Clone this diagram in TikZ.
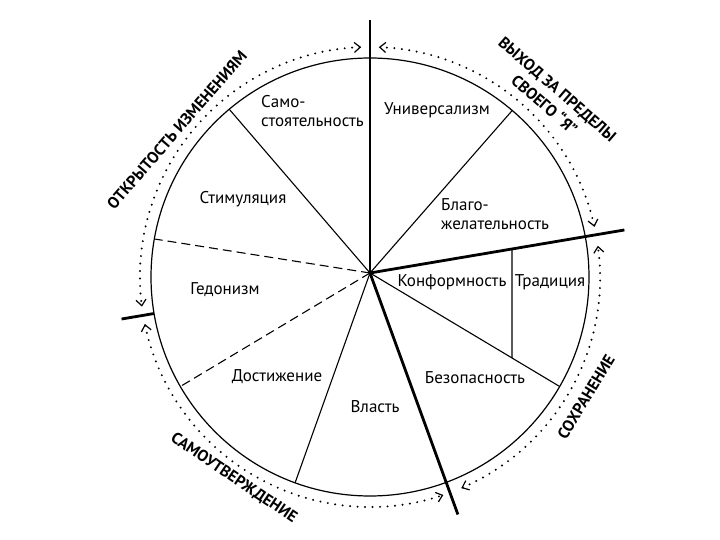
\documentclass[tikz,border=0pt]{standalone}
\usepackage{fontspec}
\setmainfont{PT Sans}
\usetikzlibrary{arrows.meta,calc}
\begin{document}
\begin{tikzpicture}[x=1pt,y=1pt,
  thinline/.style={line width=1.1pt},
  thickline/.style={line width=2.8pt},
  dashline/.style={line width=1.1pt, dash pattern=on 9pt off 5pt},
  barb/.tip={Straight Barb[length=6pt,width=10pt,line width=1.2pt]},
  dotarc/.style={line width=2.2pt, dash pattern=on 0pt off 7.5pt, line cap=round, barb-barb},
  lbl/.style={font=\fontsize{17}{19}\selectfont, inner sep=0pt},
  grp/.style={font=\bfseries\fontsize{16}{20}\selectfont, inner sep=0pt, align=center}]
\useasboundingbox (0,0) rectangle (720,540);
% centres
\coordinate (C) at (370,263);
\coordinate (H) at (370,267);
% ends on circle
\coordinate (a1) at ($(C)+(130:219)$);
\coordinate (d1) at ($(C)+(170:219)$);
\coordinate (d2) at ($(C)+(210:219)$);
\coordinate (a2) at ($(C)+(250:219)$);
\coordinate (a3) at ($(C)+(-30:219)$);
\coordinate (a4) at ($(C)+(49.5:219)$);
% thick ends
\coordinate (T) at ($(H)+(90:253)$);
\coordinate (R) at ($(H)+(9.6:258)$);
\coordinate (B) at ($(H)+(-70:257)$);
\coordinate (L1) at ($(C)+(189.6:219)$);
\coordinate (L2) at ($(C)+(189.6:252)$);
% Conformity / Tradition divider
\coordinate (v1) at (intersection of H--R and 512,0--512,540);
\coordinate (v2) at (intersection of H--a3 and 512,0--512,540);

\draw[line width=1.2pt] (C) circle[radius=219];

\draw[thinline] (H) -- (a1);
\draw[dashline] (H) -- (d1);
\draw[dashline] (H) -- (d2);
\draw[thinline] (H) -- (a2);
\draw[thinline] (H) -- (a3);
\draw[thinline] (H) -- (a4);
\draw[thinline] (v1) -- (v2);

\draw[thickline] (H) -- (T);
\draw[thickline] (H) -- (R);
\draw[thickline] (H) -- (B);
\draw[thickline] (L1) -- (L2);

% dotted arcs
\draw[dotarc] ($(C)+(12.6:230)$) arc[start angle=12.6, end angle=87.8, radius=230];
\draw[dotarc] ($(C)+(92.2:230)$) arc[start angle=92.2, end angle=187.4, radius=230];
\draw[dotarc] ($(C)+(191.8:230)$) arc[start angle=191.8, end angle=288.6, radius=230];
\draw[dotarc] ($(C)+(-66.6:230)$) arc[start angle=-66.6, end angle=7.8, radius=230];

% sector labels
\node[lbl, align=left, anchor=west] (n1) at (261,429) {Само-\\стоятельность};
\node[lbl] (n2) at (437,430) {Универсализм};
\node[lbl] (n3) at (243,341) {Стимуляция};
\node[lbl, align=left, anchor=west] (n4) at (441,325.5) {Благо-\\желательность};
\node[lbl] (n5) at (225,250) {Гедонизм};
\node[lbl] (n6) at (452,258) {Конформность};
\node[lbl] (n7) at (550,258) {Традиция};
\node[lbl] (n8) at (277,163) {Достижение};
\node[lbl] (n9) at (375,133) {Власть};
\node[lbl] (n10) at (475,162) {Безопасность};

% group labels
\node[grp, rotate=49] (g1) at (177,410) {ОТКРЫТОСТЬ ИЗМЕНЕНИЯМ};
\node[grp, rotate=-41] (g2) at (551,443) {ВЫХОД ЗА ПРЕДЕЛЫ\\СВОЕГО “Я”};
\node[grp, rotate=58.5] (g3) at (586,143) {СОХРАНЕНИЕ};
\node[grp, rotate=-34] (g4) at (234,62) {САМОУТВЕРЖДЕНИЕ};
\end{tikzpicture}
\end{document}
